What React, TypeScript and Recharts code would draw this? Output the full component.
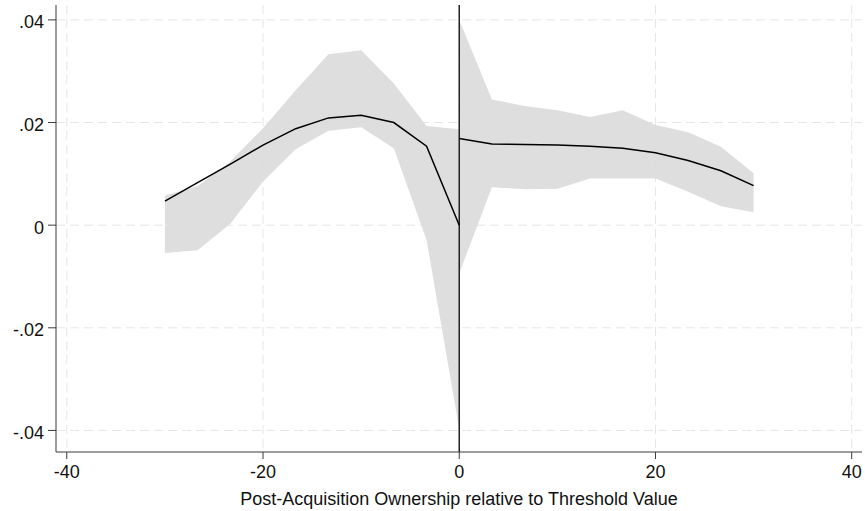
import { Area, CartesianGrid, ComposedChart, Line, ReferenceLine, XAxis, YAxis } from "recharts";

// left of threshold
const xLeft = [-30, -26.67, -23.33, -20, -16.67, -13.33, -10, -6.67, -3.33, 0];
const fitLeft = [0.0047, 0.0083, 0.0119, 0.0156, 0.0188, 0.0209, 0.0214, 0.02, 0.0154, 0.0];
const lowLeft = [-0.0054, -0.0049, 0.0003, 0.0085, 0.0148, 0.0184, 0.0191, 0.015, -0.0029, -0.0397];
const highLeft = [0.0058, 0.0076, 0.0124, 0.0189, 0.0263, 0.0333, 0.0341, 0.0276, 0.0193, 0.0187];

// right of threshold
const xRight = [0, 3.33, 6.67, 10, 13.33, 16.67, 20, 23.33, 26.67, 30];
const fitRight = [0.0169, 0.0158, 0.0157, 0.0156, 0.0154, 0.015, 0.0141, 0.0126, 0.0106, 0.0077];
const lowRight = [-0.0094, 0.0074, 0.007, 0.0071, 0.0091, 0.0091, 0.0091, 0.0065, 0.0037, 0.0025];
const highRight = [0.04, 0.0245, 0.0232, 0.0224, 0.0211, 0.0224, 0.0195, 0.0181, 0.0153, 0.0101];

const xTicks = [-40, -20, 0, 20, 40];
const yTicks = [-0.04, -0.02, 0, 0.02, 0.04];

const rows = [
  ...xLeft.map((x, i) => ({ x, fitL: fitLeft[i], bandL: [lowLeft[i], highLeft[i]] })),
  ...xRight.map((x, i) => ({ x, fitR: fitRight[i], bandR: [lowRight[i], highRight[i]] })),
];

const font = "'Liberation Sans', Arial, Helvetica, sans-serif";
const axisColor = "#3a3a3a";

function fmtY(v: number): string {
  if (v === 0) return "0";
  const s = v.toFixed(2);
  return s.replace("0.", ".");
}

export default function App() {
  return (
    <div style={{ position: "absolute", left: 0, top: 0, fontFamily: font }}>
      <ComposedChart width={865} height={511} data={rows} margin={{ top: 5, right: 3, bottom: 0, left: 0 }}>
        <CartesianGrid stroke="#e6e6e6" strokeDasharray="9 5" horizontalValues={yTicks} verticalValues={xTicks} />
        <XAxis
          dataKey="x"
          type="number"
          domain={[-41.1, 41.05]}
          allowDataOverflow
          ticks={xTicks}
          interval={0}
          height={59}
          tickSize={7}
          tickMargin={6}
          stroke={axisColor}
          tick={{ fill: "#111", fontSize: 18, fontFamily: font }}
          label={{
            value: "Post-Acquisition Ownership relative to Threshold Value",
            position: "insideBottom",
            offset: 6,
            fill: "#111",
            fontSize: 18,
            fontFamily: font,
          }}
        />
        <YAxis
          type="number"
          domain={[-0.0442, 0.0429]}
          allowDataOverflow
          ticks={yTicks}
          interval={0}
          width={56}
          tickSize={8}
          tickMargin={4}
          stroke={axisColor}
          tickFormatter={fmtY}
          tick={{ fill: "#111", fontSize: 18, fontFamily: font, dy: 2 }}
        />
        <Area dataKey="bandL" stroke="none" fill="#dadada" fillOpacity={0.9} isAnimationActive={false} />
        <Area dataKey="bandR" stroke="none" fill="#dadada" fillOpacity={0.9} isAnimationActive={false} />
        <ReferenceLine x={0} stroke="#222" strokeWidth={1.5} />
        <Line dataKey="fitL" stroke="#000" strokeWidth={1.5} dot={false} isAnimationActive={false} />
        <Line dataKey="fitR" stroke="#000" strokeWidth={1.5} dot={false} isAnimationActive={false} />
      </ComposedChart>
    </div>
  );
}
